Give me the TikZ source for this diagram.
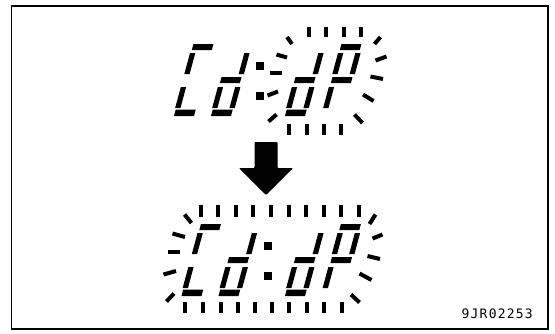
\documentclass[tikz,border=0pt]{standalone}
\usepackage{fontspec}
\newfontfamily\labelfont{DejaVu Sans Mono}
% segment macros in local digit frame (x right, y down, baseline y=0)
\newcommand{\sT}{\fill (1,-72) rectangle (21,-66);}
\newcommand{\sUL}{\fill (0,-63) rectangle (5.3,-42);}
\newcommand{\sUR}{\fill (17.3,-63) rectangle (22.6,-42);}
\newcommand{\sM}{\fill (1,-39) rectangle (21,-33);}
\newcommand{\sLL}{\fill (0,-29) rectangle (5.3,-8);}
\newcommand{\sLR}{\fill (17.3,-29) rectangle (22.6,-8);}
\newcommand{\sB}{\fill (1,-6.5) rectangle (21,0);}
\newcommand{\digitC}[2]{\begin{scope}[shift={(#1,#2)},xslant=0.27]\sT\sUL\sLL\sB\end{scope}}
\newcommand{\digitD}[2]{\begin{scope}[shift={(#1,#2)},xslant=0.27]\sUR\sM\sLL\sLR\sB\end{scope}}
\newcommand{\digitP}[2]{\begin{scope}[shift={(#1,#2)},xslant=0.27]\sT\sUL\sUR\sM\sLL\end{scope}}
\newcommand{\colondots}[2]{\fill (#1-4,#2-50.5-4) rectangle (#1+4,#2-50.5+4);
  \fill (#1-4,#2-20.5-4) rectangle (#1+4,#2-20.5+4);}
\begin{document}
\begin{tikzpicture}[x=1pt,y=-1pt,
  ray/.style={line width=4pt, line cap=butt},
  framebox/.style={line width=1.6pt},
  arrowshape/.style={fill=black, rounded corners=0.8pt}]
\useasboundingbox (0,0) rectangle (555,333);
\draw[framebox] (11.5,6) rectangle (548,329);

% ---------- top display ----------
\digitC{173}{116}
\digitD{210}{116}
\colondots{260}{116}
\digitD{284}{116}
\digitP{321}{116}
% rays around "dP"
\foreach \x in {308.5,325.5,344,360.5} \draw[ray] (\x,27) -- (\x,37);
\foreach \x in {288.5,306.5,324,341} \draw[ray] (\x,123.5) -- (\x,135);
\draw[ray] (287,37) -- (292,44);
\draw[ray] (276.5,54.5) -- (287,57.5);
\draw[ray] (269.5,72.5) -- (282,72.5);
\draw[ray] (267.5,95.5) -- (278,91.5);
\draw[ray] (268.5,121.5) -- (276.5,114.5);
\draw[ray] (380.5,37) -- (374.5,44);
\draw[ray] (375.5,60.5) -- (386.5,56.5);
\draw[ray] (370.5,76.5) -- (383,79);
\draw[ray] (363,94.5) -- (373.5,101);
\draw[ray] (354.5,114.5) -- (362.5,123);

% ---------- arrow ----------
\fill[arrowshape] (254.5,142) -- (277.5,142) -- (277.5,168) -- (293,168)
  -- (266,195) -- (239,168) -- (254.5,168) -- cycle;

% ---------- bottom display ----------
\digitC{180.5}{296}
\digitD{217.5}{296}
\colondots{267.5}{296}
\digitD{284}{296}
\digitP{320.5}{296}
\foreach \x in {200.5,217.5,235.5,252.5,271,288.5,306,323.5,340.5,358.5}
  \draw[ray] (\x,205) -- (\x,217);
\foreach \x in {185,203,220.5,238,255,272,289,307,324,342}
  \draw[ray] (\x,302) -- (\x,313);
\draw[ray] (184.5,214.5) -- (191.5,223);
\draw[ray] (172.5,233.5) -- (185,237);
\draw[ray] (167.5,251.5) -- (180,251.5);
\draw[ray] (163.5,274.5) -- (176,271);
\draw[ray] (166.5,301.5) -- (174,293.5);
\draw[ray] (375.5,214.5) -- (369.5,224);
\draw[ray] (372.5,238.5) -- (382.5,234.5);
\draw[ray] (367.5,256) -- (380,259);
\draw[ray] (359.5,273.5) -- (371.5,280);
\draw[ray] (351,294.5) -- (359.5,302.5);

% ---------- label ----------
\node[anchor=base west, inner sep=0pt, font=\labelfont\fontsize{13}{13}\selectfont]
  (code) at (461.5,318) {9\kern1.2pt J\kern1.2pt R\kern1.2pt 0\kern1.2pt 2\kern1.2pt 2\kern1.2pt 5\kern1.2pt 3};
\end{tikzpicture}
\end{document}
